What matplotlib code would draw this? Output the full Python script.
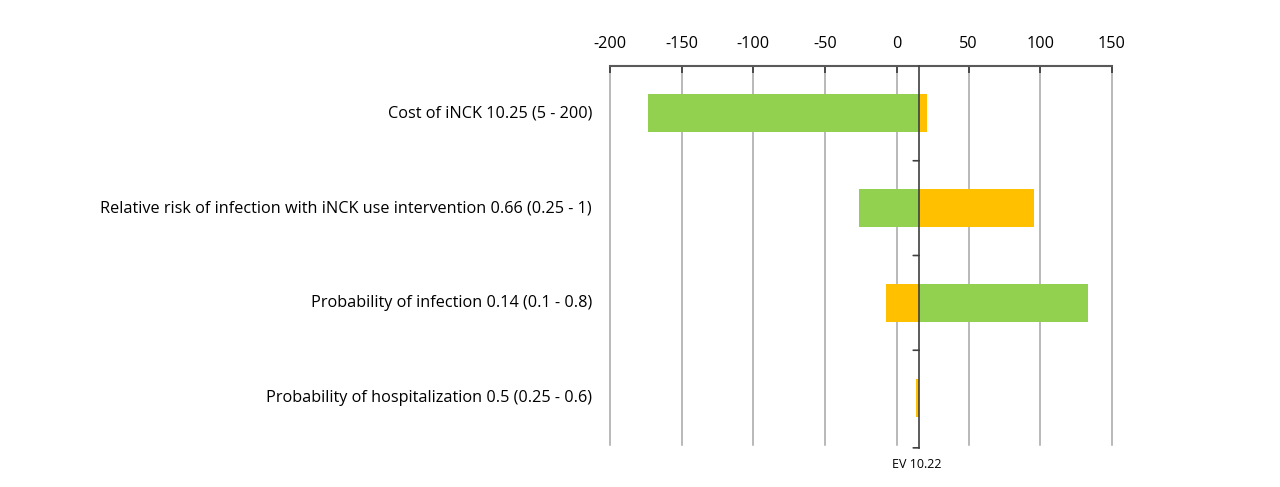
import matplotlib
matplotlib.use("Agg")
import matplotlib.pyplot as plt
import numpy as np

categories = [
    "Cost of iNCK 10.25 (5 - 200)",
    "Relative risk of infection with iNCK use intervention 0.66 (0.25 - 1)",
    "Probability of infection 0.14 (0.1 - 0.8)",
    "Probability of hospitalization 0.5 (0.25 - 0.6)",
]
green_end = [-173.8, -26.1, 133.3, 15.6]
yellow_end = [20.9, 95.3, -7.7, 13.6]
base_value = 15.6
ev_label = "EV 10.22"
x_ticks = [-200, -150, -100, -50, 0, 50, 100, 150]

plt.rcParams['font.family'] = ['Open Sans', 'DejaVu Sans']

fig = plt.figure(figsize=(12.8, 4.87), dpi=100)
ax = fig.add_axes([610/1280, 1-445/487, (1112-610)/1280, (445-66)/487])

y = np.arange(len(categories))
g = np.array(green_end) - base_value
yl = np.array(yellow_end) - base_value
ax.barh(y, g, left=base_value, height=0.4, color='#92D050', zorder=3)
ax.barh(y, yl, left=base_value, height=0.4, color='#FFC000', zorder=3)

ax.set_xlim(-200, 150)
ax.set_ylim(3.5, -0.5)
ax.set_xticks(x_ticks)
ax.set_xticklabels([str(v) for v in x_ticks])
ax.xaxis.tick_top()
ax.tick_params(axis='x', which='both', direction='in', length=5, width=1.3,
               color='#404040', pad=10, labelsize=11.7, labelcolor='#000000')
ax.grid(axis='x', color='#A6A6A6', linewidth=1.1, zorder=0)
for gl in ax.xaxis.get_gridlines():
    gl.set_clip_on(False)
ax.set_yticks([])
for s in ['left', 'right', 'bottom']:
    ax.spines[s].set_visible(False)
ax.spines['top'].set_color('#595959')
ax.spines['top'].set_linewidth(1.5)

# category labels
for yi, lab in zip(y, categories):
    ax.annotate(lab, xy=(0, yi), xycoords=('axes fraction', 'data'),
                xytext=(-18, 0), textcoords='offset pixels',
                ha='right', va='center', fontsize=11.7, color='#000000')

# center EV line with ticks
ax.plot([base_value, base_value], [-0.5, 3.53], color='#404040', linewidth=1.2, zorder=4, clip_on=False)
for b in [0.5, 1.5, 2.5, 3.53]:
    ax.annotate('', xy=(base_value, b), xycoords='data',
                xytext=(-6, 0), textcoords='offset pixels',
                arrowprops=dict(arrowstyle='-', color='#404040', lw=1.2, shrinkA=0, shrinkB=0),
                annotation_clip=False)
ax.annotate(ev_label, xy=(base_value, 3.5), xycoords='data',
            xytext=(-2, -19), textcoords='offset pixels',
            ha='center', va='center', fontsize=9.0, color='#000000', annotation_clip=False)

fig.savefig("out.png", dpi=100)
